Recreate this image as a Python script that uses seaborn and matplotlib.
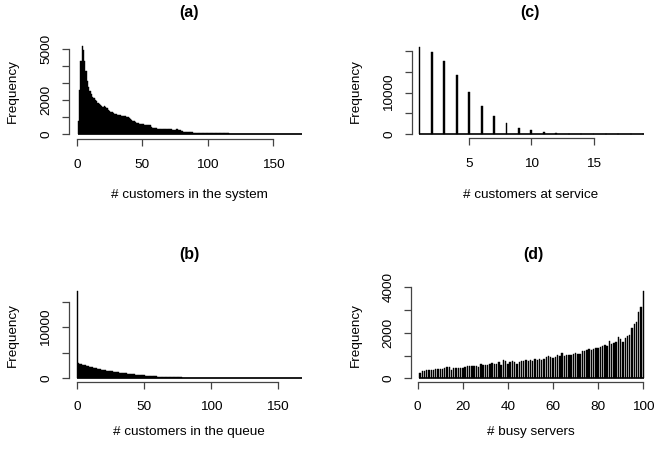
import matplotlib
matplotlib.use("Agg")
import matplotlib.pyplot as plt
import seaborn as sns
import numpy as np

# ---------------- data ----------------
# (a) customers in the system
a_x = list(range(1, 173))
a_freq = [750, 2600, 4300, 5200, 4950, 4300, 3700, 3100, 2750, 2550,
          2350, 2200, 2100, 2000, 1920, 1850, 1780, 1700, 1640, 1610,
          1620, 1580, 1520, 1420, 1360, 1310, 1270, 1230, 1190, 1150,
          1120, 1100, 1090, 1060, 1050, 1070, 1060, 1020, 980, 930,
          880, 830, 790, 740, 690, 650, 630, 600, 580, 570,
          560, 550, 540, 530, 520, 500, 440, 380, 350, 340,
          330, 320, 310, 300, 300, 290, 290, 280, 280, 270,
          270, 265, 260, 255, 250, 270, 290, 260, 220, 190,
          160, 140, 130, 120, 110, 100, 95, 90, 85, 80,
          78, 75, 72, 70, 68, 65, 62, 60, 58, 55,
          52, 50, 48, 46, 44, 42, 40, 38, 37, 36,
          35, 34, 33, 32, 31, 30, 29, 28, 28, 27,
          27, 26, 25, 25, 24, 24, 23, 23, 22, 22,
          21, 21, 20, 20, 19, 19, 18, 18, 17, 17,
          16, 16, 15, 15, 14, 14, 13, 13, 12, 12,
          11, 11, 10, 10, 9, 9, 8, 8, 7, 7,
          6, 6, 5, 5, 4, 4, 3, 3, 2, 2, 1, 1]

# (b) customers in the queue
b_x = list(range(0, 169))
b_freq = [17200, 3050, 2900, 2800, 2700, 2620, 2540, 2460, 2380, 2300,
          2220, 2150, 2080, 2010, 1950, 1890, 1830, 1770, 1710, 1650,
          1600, 1550, 1500, 1460, 1420, 1380, 1340, 1300, 1260, 1220,
          1180, 1140, 1100, 1070, 1040, 1010, 980, 950, 920, 890,
          860, 830, 800, 770, 740, 710, 680, 650, 620, 590,
          560, 535, 510, 490, 470, 450, 430, 410, 390, 370,
          350, 335, 320, 305, 290, 280, 270, 260, 250, 240,
          230, 220, 210, 200, 190, 180, 170, 165, 160, 150,
          140, 132, 125, 118, 112, 106, 100, 95, 90, 85,
          80, 76, 72, 68, 64, 60, 57, 54, 51, 48,
          45, 43, 41, 39, 37, 35, 33, 31, 30, 29,
          28, 27, 26, 25, 24, 23, 22, 21, 20, 19,
          18, 17, 16, 15, 14, 13, 12, 12, 11, 11,
          10, 10, 9, 9, 8, 8, 7, 7, 6, 6,
          5, 5, 5, 4, 4, 4, 3, 3, 3, 3,
          2, 2, 2, 2, 2, 2, 1, 1, 1, 1,
          1, 1, 1, 1, 1, 1, 1, 1, 1]

# (c) customers at service
c_x = list(range(1, 20))
c_freq = [21100, 19700, 17600, 14300, 10100, 6700, 4300, 2600, 1550, 970,
          480, 220, 110, 50, 25, 10, 5, 2, 1]

# (d) busy servers
d_x = list(range(1, 101))
d_freq = [250, 310, 340, 350, 380, 360, 350, 430, 420, 410,
          420, 440, 510, 480, 380, 470, 440, 450, 470, 460,
          480, 560, 550, 540, 530, 540, 500, 640, 600, 580,
          600, 640, 680, 640, 650, 720, 600, 820, 760, 640,
          700, 750, 700, 620, 700, 760, 780, 790, 740, 820,
          780, 860, 800, 830, 820, 840, 930, 960, 920, 880,
          940, 1030, 980, 1110, 980, 1010, 1020, 1030, 1060, 1100,
          1070, 1080, 1220, 1200, 1250, 1270, 1250, 1280, 1340, 1350,
          1380, 1420, 1460, 1400, 1640, 1520, 1560, 1580, 1820, 1720,
          1600, 1760, 1860, 1920, 2200, 2370, 2460, 2930, 3150, 3850]

titles = ["(a)", "(b)", "(c)", "(d)"]
xlabels = ["# customers in the system", "# customers in the queue",
           "# customers at service", "# busy servers"]
ylabel = "Frequency"

a_xticks, a_xticklabels = [0, 50, 100, 150], ["0", "50", "100", "150"]
a_yticks = [0, 1000, 2000, 3000, 4000, 5000]
a_yticklabels = ["0", "", "2000", "", "", "5000"]
b_xticks, b_xticklabels = [0, 50, 100, 150], ["0", "50", "100", "150"]
b_yticks = [0, 5000, 10000, 15000]
b_yticklabels = ["0", "", "10000", ""]
c_xticks, c_xticklabels = [5, 10, 15], ["5", "10", "15"]
c_yticks = [0, 5000, 10000, 15000, 20000]
c_yticklabels = ["0", "", "10000", "", ""]
d_xticks, d_xticklabels = [0, 20, 40, 60, 80, 100], ["0", "20", "40", "60", "80", "100"]
d_yticks = [0, 1000, 2000, 3000, 4000]
d_yticklabels = ["0", "", "2000", "", "4000"]

# ---------------- style ----------------
sns.set_style("white")
plt.rcParams["font.family"] = ["Liberation Sans", "DejaVu Sans"]
plt.rcParams["text.color"] = "black"
plt.rcParams["xtick.color"] = "black"
plt.rcParams["ytick.color"] = "black"
plt.rcParams["axes.labelcolor"] = "black"
FS = 9.7
AXC = "#444444"

W, H = 655, 449
fig = plt.figure(figsize=(W / 100, H / 100), dpi=100)


def add_ax(l, r, t, b):
    return fig.add_axes([l / W, 1 - b / H, (r - l) / W, (b - t) / H])


def style(ax, xticks, xtl, yticks, ytl, xlim, ylim):
    ax.set_xlim(*xlim)
    ax.set_ylim(*ylim)
    for s in ["top", "right"]:
        ax.spines[s].set_visible(False)
    for s in ["left", "bottom"]:
        ax.spines[s].set_color(AXC)
        ax.spines[s].set_linewidth(0.9)
    ax.spines["left"].set_bounds(yticks[0], yticks[-1])
    ax.spines["bottom"].set_bounds(xticks[0], xticks[-1])
    ax.set_xticks(xticks, xtl)
    ax.set_yticks(yticks, ytl)
    ax.tick_params(axis="both", direction="out", length=5, width=0.9,
                   color=AXC, labelcolor="black", labelsize=FS,
                   bottom=True, left=True)
    ax.tick_params(axis="x", pad=9)
    ax.tick_params(axis="y", pad=7)
    for lab in ax.get_yticklabels():
        lab.set_rotation(90)
        lab.set_va("center")
        lab.set_ha("right")
    ax.set_xlabel("")
    ax.set_ylabel("")
    ax.grid(False)


def draw(ax, xs, ys, shrink, lw, base_pad):
    sns.histplot(x=xs, weights=ys, discrete=True, shrink=shrink,
                 color="black", edgecolor="black", linewidth=lw,
                 alpha=1, ax=ax)
    ax.hlines(0, xs[0] - base_pad, xs[-1] + base_pad, colors="black",
              linewidth=1.2, zorder=3)


# (a)
ax_a = add_ax(69, 302, 43, 139.3)
draw(ax_a, a_x, a_freq, 1.0, 0.3, 0.5)
style(ax_a, a_xticks, a_xticklabels, a_yticks, a_yticklabels,
      (-6.1, 172.3), (-312, 5353))

# (b)
ax_b = add_ax(69, 302, 287.2, 381.8)
draw(ax_b, b_x, b_freq, 1.0, 0.3, 0.5)
style(ax_b, b_xticks, b_xticklabels, b_yticks, b_yticklabels,
      (-6.2, 168.3), (-686, 17863))

# (c)
ax_c = add_ax(411.7, 648, 43, 138.3)
draw(ax_c, c_x, c_freq, 0.15, 0.3, 0.08)
style(ax_c, c_xticks, c_xticklabels, c_yticks, c_yticklabels,
      (0.37, 19.38), (-1039, 21981))

# (d)
ax_d = add_ax(411, 648, 287.2, 381.8)
draw(ax_d, d_x, d_freq, 0.62, 0.3, 0.3)
style(ax_d, d_xticks, d_xticklabels, d_yticks, d_yticklabels,
      (-2.97, 102.1), (-154, 4004))


def ftext(x, y, s, **kw):
    fig.text(x / W, 1 - y / H, s, ha="center", va="center", color="black", **kw)


# titles
ftext(189, 13, titles[0], fontsize=11.5, fontweight="bold")
ftext(189, 255, titles[1], fontsize=11.5, fontweight="bold")
ftext(529.5, 13, titles[2], fontsize=11.5, fontweight="bold")
ftext(533, 255, titles[3], fontsize=11.5, fontweight="bold")

# x labels
ftext(189, 195, xlabels[0], fontsize=FS)
ftext(189, 432, xlabels[1], fontsize=FS)
ftext(531, 195, xlabels[2], fontsize=FS)
ftext(531, 432, xlabels[3], fontsize=FS)

# y labels
ftext(13, 91, ylabel, fontsize=FS, rotation=90)
ftext(13, 335, ylabel, fontsize=FS, rotation=90)
ftext(356, 91, ylabel, fontsize=FS, rotation=90)
ftext(356, 335, ylabel, fontsize=FS, rotation=90)

fig.savefig("out.png", dpi=100)
